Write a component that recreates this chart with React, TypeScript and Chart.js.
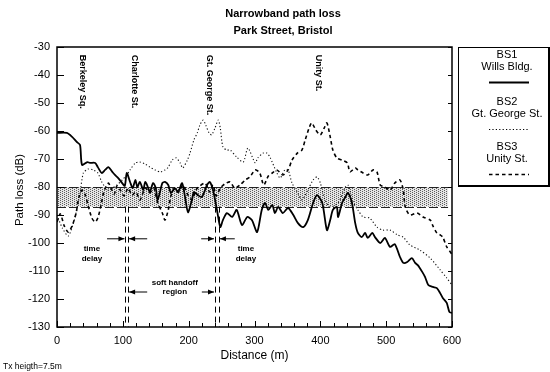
import React, { useEffect, useRef } from 'react';
import { Chart, registerables } from 'chart.js';

Chart.register(...registerables);

const FONT = '"Liberation Sans", Arial, Helvetica, sans-serif';

// ---- Data (distance in m, path loss in dB) ----
const BS1_DIST = [0,15,23,30,35,38,46,50,58,62,68,73,78,84,88,93,99,103,106,111,115,119,122,126,131,134,138,141,146,150,153,160,164,169,173,179,184,190,194,199,205,208,214,220,228,232,237,243,248,252,258,266,273,281,289,296,304,311,316,321,327,331,336,343,351,359,366,374,381,389,395,403,410,415,419,425,427,433,438,442,448,453,457,463,468,472,479,483,491,498,506,513,521,526,532,539,544,548,555,559,564,571,577,582,586,592,596,600];
const BS1_LOSS = [-60.7,-60.7,-62.1,-63.9,-65,-72.1,-71.1,-71.4,-71.4,-72.9,-75,-73.9,-72.9,-74.6,-75.7,-76.8,-78.6,-79.6,-75,-78.2,-80.4,-77.5,-80,-78.2,-81.1,-78.2,-80,-81.8,-78.6,-80.4,-84.6,-78.6,-78.2,-79.3,-82.1,-80.4,-81.8,-78.6,-82.9,-89,-84.6,-81.8,-82.9,-83.6,-79.3,-78.2,-81.1,-88.2,-94.3,-91.8,-89.3,-90.7,-88.2,-93.6,-90.7,-91.8,-96.1,-88.2,-85.7,-88.2,-86.4,-89.3,-87.1,-89.3,-87.5,-90,-92.9,-94.3,-91.8,-85.7,-82.9,-85.7,-95.4,-91.8,-88.2,-87.1,-90.7,-85.7,-83.6,-82.1,-85.7,-92.9,-96.4,-97.9,-96.4,-98.2,-96.4,-97.9,-100,-98.2,-101.4,-100.4,-105,-107.1,-106.8,-105.4,-107.1,-107.9,-110.4,-112.1,-115,-115.7,-116.1,-117.9,-119.6,-121.4,-124.6,-125];

const BS2_DIST = [0,8,17,24,30,35,40,47,55,62,68,73,78,84,91,99,106,111,119,126,134,141,149,157,164,169,175,181,187,191,198,202,208,213,217,222,226,231,235,240,245,248,252,258,263,273,283,290,301,305,313,319,324,334,339,346,351,357,365,372,381,389,395,400,407,415,427,438,442,450,457,465,475,486,495,506,517,526,536,551,567,582,592,600];
const BS2_LOSS = [-90,-94.6,-97.5,-93.6,-88.2,-82.1,-75,-73.6,-73.9,-75,-78.2,-80,-81.1,-80.4,-79.3,-77.5,-75.7,-73.9,-71.4,-71.1,-71.8,-72.9,-73.9,-74.6,-73.9,-72.9,-70.4,-69.6,-71.4,-73.2,-70.4,-67.9,-63.2,-60.7,-57.9,-56.1,-57.9,-60.7,-61.4,-58.9,-56.1,-58.9,-65.7,-66.8,-66.8,-69.3,-71.1,-66.1,-71.4,-69.6,-67.9,-67.9,-69.6,-75,-76.8,-73.9,-73.9,-78.6,-81.8,-84.6,-81.1,-77.5,-76.4,-78.6,-84.6,-87.1,-85.7,-80,-79.3,-85.4,-88.2,-90.7,-91.1,-94.3,-95.4,-95.4,-97.1,-97.9,-100.7,-102.5,-105.4,-109.6,-112.5,-115];

const BS3_DIST = [0,5,11,17,23,29,33,38,43,47,53,58,62,67,71,78,82,87,91,96,102,108,114,120,126,134,141,147,153,160,164,169,173,179,185,191,199,205,211,217,225,232,237,242,248,255,263,270,278,286,293,301,308,314,321,327,334,343,351,357,365,372,377,383,387,393,400,406,410,415,419,425,433,441,445,453,457,465,472,480,486,491,498,506,513,521,526,529,536,547,556,567,571,577,582,586,592,600];
const BS3_LOSS = [-92.5,-89.6,-93.9,-96.1,-93.9,-89.3,-83.9,-81.1,-82.9,-86.4,-91.1,-92.5,-91.1,-86.4,-81.8,-78.6,-80.4,-82.5,-79.6,-81.1,-83.2,-80.4,-82.9,-81.8,-84.6,-80.4,-82.1,-80.4,-85.7,-89.3,-91.8,-88.2,-83.2,-80.4,-81.8,-79.3,-82.9,-84.6,-81.1,-79.6,-78.6,-81.8,-79.3,-83.2,-80.4,-78.9,-78.2,-80.4,-79.3,-77.5,-76.4,-73.9,-75,-79.3,-76.1,-75,-73.9,-75.7,-73.9,-70.4,-67.9,-66.8,-63.2,-58.9,-57.1,-59.6,-61.4,-58.9,-57.1,-62.1,-66.8,-69.6,-70.4,-71.4,-74.6,-73.2,-73.9,-75,-75.7,-73.9,-74.6,-79.3,-80,-81.1,-78.6,-77.5,-81.1,-87.1,-90,-89.3,-90.7,-91.8,-93.9,-96.4,-97.1,-97.9,-101.4,-104];

const SERIES_NAMES = ['BS1', 'BS2', 'BS3'];
const SERIES_SITES = ['Wills Bldg.', 'Gt. George St.', 'Unity St.'];

// Annotations
const BAND = [-80, -87];
const BAND_END = 594;
const HANDOFF_LINES = [104, 108, 240, 246];
const STREETS = ['Berkeley Sq.', 'Charlotte St.', 'Gt. George St.', 'Unity St.'];
const STREET_POS = [38, 118, 232, 397];
const TIME_DELAY_Y = -98.5;
const HANDOFF_Y = -117.5;

const TITLE_LINES = ['Narrowband path loss', 'Park Street, Bristol'];

const DASH_BS2 = [1.2, 2.2];
const DASH_BS3 = [3.5, 3];

function makePattern(ctx: CanvasRenderingContext2D) {
  const c = document.createElement('canvas');
  c.width = 4; c.height = 4;
  const p = c.getContext('2d')!;
  p.fillStyle = 'rgba(0,0,0,0.10)';
  p.fillRect(0, 0, 4, 4);
  p.fillStyle = 'rgba(0,0,0,0.6)';
  [[0, 0], [2, 1], [0, 2], [2, 3]].forEach(([i, j]) => p.fillRect(i, j, 1, 1));
  return ctx.createPattern(c, 'repeat')!;
}

function arrow(ctx: CanvasRenderingContext2D, xFrom: number, xTo: number, yy: number) {
  ctx.beginPath();
  ctx.moveTo(xFrom, yy);
  ctx.lineTo(xTo, yy);
  ctx.stroke();
  const dir = Math.sign(xTo - xFrom);
  ctx.beginPath();
  ctx.moveTo(xTo, yy);
  ctx.lineTo(xTo - dir * 6, yy - 2.5);
  ctx.lineTo(xTo - dir * 6, yy + 2.5);
  ctx.closePath();
  ctx.fill();
}

const overlay = {
  id: 'overlay',
  beforeDatasetsDraw(chart: any) {
    const { ctx, scales: { x, y } } = chart;
    const yt = y.getPixelForValue(BAND[0]);
    const yb = y.getPixelForValue(BAND[1]);
    const x0 = x.getPixelForValue(0);
    const x1 = x.getPixelForValue(BAND_END);
    ctx.save();
    ctx.fillStyle = makePattern(ctx);
    ctx.fillRect(x0, yt, x1 - x0, yb - yt);
    ctx.strokeStyle = '#222';
    ctx.lineWidth = 1;
    ctx.setLineDash([9, 3]);
    [yt, yb].forEach((yy) => {
      ctx.beginPath();
      ctx.moveTo(x0, Math.round(yy) + 0.5);
      ctx.lineTo(x1, Math.round(yy) + 0.5);
      ctx.stroke();
    });
    ctx.restore();
  },
  afterDatasetsDraw(chart: any) {
    const { ctx, chartArea: a, scales: { x, y } } = chart;
    ctx.save();
    // handoff dashed lines
    ctx.strokeStyle = '#000';
    ctx.lineWidth = 1;
    ctx.setLineDash([6, 4]);
    HANDOFF_LINES.forEach((d) => {
      const px = Math.round(x.getPixelForValue(d)) + 0.5;
      ctx.beginPath();
      ctx.moveTo(px, y.getPixelForValue(BAND[1]));
      ctx.lineTo(px, a.bottom);
      ctx.stroke();
    });
    ctx.setLineDash([]);
    // arrows
    ctx.fillStyle = '#000';
    const td = y.getPixelForValue(TIME_DELAY_Y);
    const ho = y.getPixelForValue(HANDOFF_Y);
    const X = (d: number) => x.getPixelForValue(d);
    arrow(ctx, X(76), X(HANDOFF_LINES[0]) - 1, td);
    arrow(ctx, X(137), X(HANDOFF_LINES[1]) + 1, td);
    arrow(ctx, X(219), X(HANDOFF_LINES[2]) - 1, td);
    arrow(ctx, X(270), X(HANDOFF_LINES[3]) + 1, td);
    arrow(ctx, X(137), X(HANDOFF_LINES[1]) + 1, ho);
    arrow(ctx, X(220), X(HANDOFF_LINES[2]) - 1, ho);
    // annotation texts
    ctx.font = `bold 8px ${FONT}`;
    ctx.textAlign = 'center';
    ctx.textBaseline = 'middle';
    ctx.fillText('time', X(53), y.getPixelForValue(-102.2));
    ctx.fillText('delay', X(53), y.getPixelForValue(-105.8));
    ctx.fillText('time', X(287), y.getPixelForValue(-102.2));
    ctx.fillText('delay', X(287), y.getPixelForValue(-105.8));
    ctx.fillText('soft handoff', X(179), y.getPixelForValue(-114.3));
    ctx.fillText('region', X(179), y.getPixelForValue(-117.6));
    // street labels (rotated)
    ctx.textAlign = 'left';
    ctx.font = `bold 9px ${FONT}`;
    STREETS.forEach((s, i) => {
      ctx.save();
      ctx.translate(X(STREET_POS[i]), y.getPixelForValue(-32.8));
      ctx.rotate(Math.PI / 2);
      ctx.fillText(s, 0, 0);
      ctx.restore();
    });
    // frame
    ctx.strokeStyle = '#000';
    ctx.lineWidth = 1.5;
    ctx.strokeRect(a.left, a.top, a.right - a.left, a.bottom - a.top);
    // inward ticks
    ctx.lineWidth = 1;
    for (let v = -130; v <= -30; v += 10) {
      const py = Math.round(y.getPixelForValue(v)) + 0.5;
      ctx.beginPath();
      ctx.moveTo(a.left, py); ctx.lineTo(a.left + 7, py);
      ctx.moveTo(a.right, py); ctx.lineTo(a.right - 4, py);
      ctx.stroke();
    }
    for (let d = 0; d <= 600; d += 20) {
      const px = Math.round(x.getPixelForValue(d)) + 0.5;
      ctx.beginPath();
      ctx.moveTo(px, a.bottom); ctx.lineTo(px, a.bottom - (d % 100 === 0 ? 6 : 4));
      ctx.stroke();
    }
    ctx.restore();
  },
  afterDraw(chart: any) {
    const { ctx, chartArea: a } = chart;
    ctx.save();
    ctx.fillStyle = '#000';
    ctx.textAlign = 'center';
    ctx.textBaseline = 'middle';
    // title
    ctx.font = `bold 11px ${FONT}`;
    ctx.fillText(TITLE_LINES[0], 283, 14);
    ctx.fillText(TITLE_LINES[1], 283, 31);
    // axis titles
    ctx.font = `12px ${FONT}`;
    ctx.fillText('Distance (m)', (a.left + a.right) / 2, 356);
    ctx.save();
    ctx.translate(20, (a.top + a.bottom) / 2 + 3);
    ctx.rotate(-Math.PI / 2);
    ctx.font = `11.5px ${FONT}`;
    ctx.fillText('Path loss (dB)', 0, 0);
    ctx.restore();
    // footnote
    ctx.textAlign = 'left';
    ctx.font = `8.5px ${FONT}`;
    ctx.fillText('Tx heigth=7.5m', 3, 367);
    // legend box
    const L = 458, T = 47, R = 548, B = 185;
    ctx.strokeStyle = '#000';
    ctx.lineWidth = 1;
    ctx.strokeRect(L + 0.5, T + 0.5, R - L, B - T);
    ctx.lineWidth = 2;
    ctx.beginPath();
    ctx.moveTo(L, B + 1); ctx.lineTo(R + 1, B + 1); ctx.lineTo(R + 1, T);
    ctx.stroke();
    const cx = 507;
    ctx.textAlign = 'center';
    ctx.font = `11px ${FONT}`;
    const rows = [55, 102, 147];
    const widths = [1.8, 1.1, 1.6];
    const dashes = [[], DASH_BS2, DASH_BS3];
    rows.forEach((ry, i) => {
      ctx.fillText(SERIES_NAMES[i], cx, ry);
      ctx.fillText(SERIES_SITES[i], cx, ry + 12);
      ctx.lineWidth = widths[i];
      ctx.setLineDash(dashes[i] as number[]);
      ctx.beginPath();
      ctx.moveTo(489, ry + 27.5);
      ctx.lineTo(529, ry + 27.5);
      ctx.stroke();
      ctx.setLineDash([]);
    });
    ctx.restore();
  },
};

export default function App() {
  const ref = useRef<HTMLCanvasElement>(null);
  useEffect(() => {
    const toPts = (xs: number[], ys: number[]) => xs.map((d, i) => ({ x: d, y: ys[i] }));
    const chart = new Chart(ref.current!, {
      type: 'line',
      data: {
        datasets: [
          { label: 'BS1 Wills Bldg.', data: toPts(BS1_DIST, BS1_LOSS), borderColor: '#000', borderWidth: 1.8, pointRadius: 0, tension: 0.25, fill: false },
          { label: 'BS2 Gt. George St.', data: toPts(BS2_DIST, BS2_LOSS), borderColor: '#111', borderWidth: 1.1, borderDash: DASH_BS2, pointRadius: 0, tension: 0.25, fill: false },
          { label: 'BS3 Unity St.', data: toPts(BS3_DIST, BS3_LOSS), borderColor: '#000', borderWidth: 1.6, borderDash: DASH_BS3, pointRadius: 0, tension: 0.25, fill: false },
        ],
      },
      options: {
        animation: false,
        responsive: false,
        events: [],
        layout: { padding: { left: 0, top: 47, right: 98, bottom: 0 } },
        scales: {
          x: {
            type: 'linear', min: 0, max: 600,
            afterFit: (s: any) => { s.height = 45; },
            ticks: { stepSize: 100, color: '#000', font: { family: FONT, size: 11 }, padding: 7, maxRotation: 0 },
            grid: { display: false, drawTicks: false },
            border: { display: false },
          },
          y: {
            type: 'linear', min: -130, max: -30,
            afterFit: (s: any) => { s.width = 57; },
            ticks: { stepSize: 10, color: '#000', font: { family: FONT, size: 11 }, padding: 7 },
            grid: { display: false, drawTicks: false },
            border: { display: false },
          },
        },
        plugins: { legend: { display: false }, tooltip: { enabled: false }, title: { display: false } },
      },
      plugins: [overlay],
    });
    return () => chart.destroy();
  }, []);
  return (
    <div style={{ position: 'absolute', left: 0, top: 0, width: 550, height: 372, background: '#fff' }}>
      <canvas ref={ref} width={550} height={372} style={{ display: 'block' }} />
    </div>
  );
}
